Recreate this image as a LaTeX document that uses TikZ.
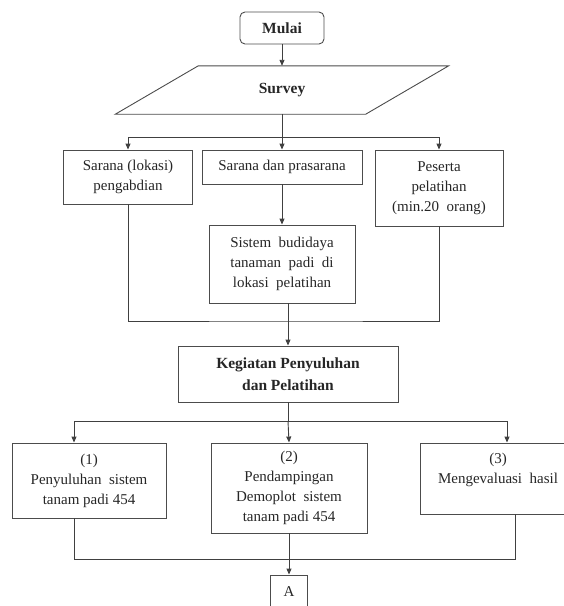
\documentclass[tikz,border=0pt]{standalone}
\usepackage{fontspec}
\setmainfont{Liberation Serif}
\usetikzlibrary{positioning, arrows.meta}

\begin{document}
\begin{tikzpicture}[x=1pt, y=-1pt,
    every node/.style={font=\fontsize{15}{20}\selectfont, text=black!85},
    box/.style={draw=black!70, line width=0.9pt, align=center, inner sep=2pt},
    boldbox/.style={box, font=\fontsize{15.5}{22}\selectfont\bfseries},
    link/.style={draw=black!75, line width=0.9pt},
    arr/.style={link, -{Triangle[length=6pt, width=5pt]}}]
  \useasboundingbox (0,0) rectangle (564,606);
  \clip (0,0) rectangle (564,606);

  \node[boldbox, rounded corners=5pt, minimum width=84pt, minimum height=32pt] (mulai) at (282,28) {Mulai};
  \node[font=\fontsize{15.5}{22}\selectfont\bfseries, minimum width=250pt, minimum height=48pt, inner sep=0pt] (survey) at (282,90) {Survey};
  \draw[link, draw=black!70] ([xshift=41.5pt]survey.north west) -- ([xshift=41.5pt]survey.north east)
    -- ([xshift=-41.5pt]survey.south east) -- ([xshift=-41.5pt]survey.south west) -- cycle;

  \node[box, minimum width=129pt, minimum height=54pt] (lokasi) at (128,177) {Sarana (lokasi)\\pengabdian};
  \node[box, minimum width=160pt, minimum height=34pt] (prasarana) at (282,167) {Sarana dan prasarana};
  \node[box, minimum width=128pt, minimum height=76pt] (peserta) at (439,188) {Peserta\\pelatihan\\(min.20\ \ orang)};
  \node[box, minimum width=146pt, minimum height=78pt] (budidaya) at (282,264) {Sistem\ \ budidaya\\tanaman\ \ padi\ \ di\\lokasi\ \ pelatihan};
  \node[boldbox, minimum width=220pt, minimum height=56pt] (kegiatan) at (288,374) {Kegiatan Penyuluhan\\dan Pelatihan};

  \node[box, minimum width=154pt, minimum height=75pt] (satu) at (89,480.5) {(1)\\Penyuluhan\ \ sistem\\tanam padi 454};
  \node[box, minimum width=156pt, minimum height=90pt] (dua) at (289,488) {(2)\\Pendampingan\\Demoplot\ \ sistem\\tanam padi 454};
  \node[box, minimum width=156pt, minimum height=71pt] (tiga) at (498,478.5) {(3)\\Mengevaluasi\ \ hasil\\\mbox{}};
  \node[box, minimum width=37pt, minimum height=34pt] (hasilA) at (289,592) {A};

  \coordinate (fork1) at (282,137);
  \coordinate (join1) at (288,321);
  \coordinate (fork2) at (288,421);
  \coordinate (kiri2) at (74,421);
  \coordinate (kanan2) at (507,421);
  \coordinate (join2) at (515,559);

  \draw[arr] (mulai) -- (survey.north);
  \draw[link] (survey.south) -- (fork1);
  \draw[arr] (fork1) -| (lokasi.north);
  \draw[arr] (fork1) -- (prasarana.north);
  \draw[arr] (fork1) -| (peserta.north);
  \draw[arr] (prasarana) -- (budidaya);
  \draw[link] (lokasi.south) |- (join1) -| (peserta.south);
  \draw[link] (budidaya.south -| join1) -- (join1);
  \draw[arr] (join1) -- (kegiatan.north);

  \draw[link] (kegiatan) -- (fork2);
  \draw[link] (kiri2) -- (kanan2);
  \draw[arr] (kiri2) -- (kiri2 |- satu.north);
  \draw[arr] (fork2) -- (dua.north);
  \draw[arr] (kanan2) -- (kanan2 |- tiga.north);
  \draw[link] (kiri2 |- satu.south) |- (join2) -- (join2 |- tiga.south);
  \draw[arr] (dua) -- (hasilA);
\end{tikzpicture}
\end{document}
